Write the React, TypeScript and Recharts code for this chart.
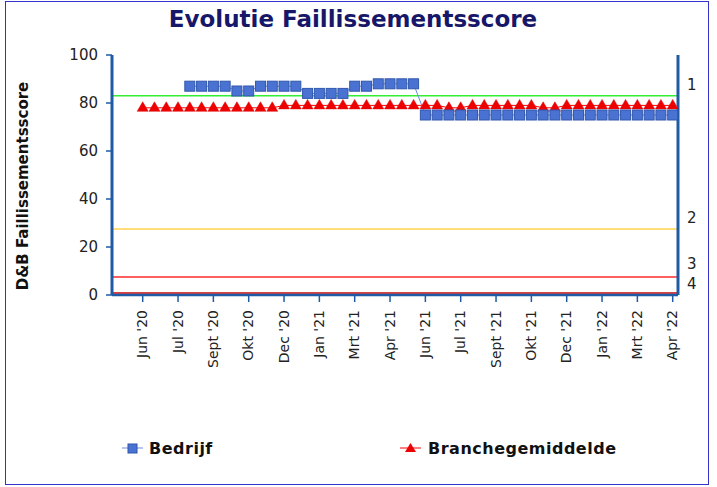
import React from 'react';
import { LineChart, Line, XAxis, YAxis, ReferenceLine, Legend } from 'recharts';

const tickLabels = ["Jun '20", "Jul '20", "Sept '20", "Okt '20", "Dec '20", "Jan '21", "Mrt '21", "Apr '21", "Jun '21", "Jul '21", "Sept '21", "Okt '21", "Dec '21", "Jan '22", "Mrt '22", "Apr '22"];

const bedrijf: (number | null)[] = [
  null, null, null, null, 87, 87, 87, 87, 85, 85,
  87, 87, 87, 87, 84, 84, 84, 84, 87, 87,
  88, 88, 88, 88, 75, 75, 75, 75, 75, 75,
  75, 75, 75, 75, 75, 75, 75, 75, 75, 75,
  75, 75, 75, 75, 75, 75,
];

const branche: number[] = [
  78, 78, 78, 78, 78, 78, 78, 78, 78, 78,
  78, 78, 79, 79, 79, 79, 79, 79, 79, 79,
  79, 79, 79, 79, 79, 79, 78, 78, 79, 79,
  79, 79, 79, 79, 78, 78, 79, 79, 79, 79,
  79, 79, 79, 79, 79, 79,
];

const thresholdValues = [83, 27.5, 7.5, 0.8];
const thresholdLabels = ['1', '2', '3', '4'];
const thresholdColors = ['#33ee33', '#ffd24d', '#ff2a2a', '#cc0000'];
const thresholdLabelShift = [-6, -6, -8, -4];

const yTicks = [0, 20, 40, 60, 80, 100];

const data = branche.map((b, i) => ({ idx: i, bedrijf: bedrijf[i], branche: b }));
const xTicks = tickLabels.map((_, k) => k * 3);

const FONT = '"DejaVu Sans", Verdana, sans-serif';
const AXIS = '#1f5aa6';

const SquareDot = (props: any) => {
  const { cx, cy, index } = props;
  if (cx == null || cy == null || props.value == null) return <g key={`s${index}`} />;
  return <rect key={`s${index}`} x={cx - 5} y={cy - 5} width={10} height={10} fill="#4a72d2" stroke="#3158ac" strokeWidth={1} />;
};

const TriangleDot = (props: any) => {
  const { cx, cy, index } = props;
  if (cx == null || cy == null) return <g key={`t${index}`} />;
  return <polygon key={`t${index}`} points={`${cx},${cy - 6} ${cx + 5.5},${cy + 3.5} ${cx - 5.5},${cy + 3.5}`} fill="#ee0000" stroke="#dd0000" strokeWidth={0.5} />;
};

const XTick = (props: any) => {
  const { x, y, payload } = props;
  return (
    <g transform={`translate(${x},${y})`}>
      <text transform="rotate(-90)" x={0} y={0} dy="0.33em" textAnchor="end" fontSize={14} fontFamily={FONT} fill="#222">
        {tickLabels[Math.round(payload.value / 3)]}
      </text>
    </g>
  );
};

const renderLegend = () => (
  <div style={{ position: 'relative', width: 717, height: 38, fontFamily: FONT }}>
    <svg width={717} height={38} style={{ position: 'absolute', left: 0, top: 0 }}>
      <line x1={122} x2={143} y1={19} y2={19} stroke="#6a8fe0" strokeWidth={1} />
      <rect x={128} y={15} width={9} height={9} fill="#4a72d2" stroke="#2e55a8" />
      <text x={149} y={25} fontSize={16} fontWeight="bold" letterSpacing={0.5} fill="#111" fontFamily={FONT}>Bedrijf</text>
      <line x1={400} x2={421} y1={19} y2={19} stroke="#ff0000" strokeWidth={1} />
      <polygon points="410.5,14 416,23 405,23" fill="#ee0000" />
      <text x={428} y={25} fontSize={16} fontWeight="bold" letterSpacing={0.5} fill="#111" fontFamily={FONT}>Branchegemiddelde</text>
    </svg>
  </div>
);

export default function App() {
  return (
    <div style={{ position: 'absolute', left: 0, top: 0, width: 717, height: 487, background: '#fff' }}>
      <div style={{ position: 'absolute', left: 5, top: 1, width: 704, height: 484, border: '1px solid #3333cc', boxSizing: 'border-box', pointerEvents: 'none' }} />
      <div style={{ position: 'absolute', left: 0, top: 5, width: 706, textAlign: 'center', fontFamily: FONT, fontSize: 23, fontWeight: 'bold', lineHeight: '28px', color: '#17176a' }}>
        Evolutie Faillissementsscore
      </div>
      <div style={{ position: 'absolute', left: 23, top: 186, transform: 'translate(-50%, -50%) rotate(-90deg)', whiteSpace: 'nowrap', fontFamily: FONT, fontSize: 15, fontWeight: 'bold', color: '#111' }}>
        D&amp;B Faillissementsscore
      </div>
      <LineChart width={717} height={487} data={data} margin={{ top: 55, right: 29, left: 12, bottom: 20 }}>
        <XAxis
          dataKey="idx"
          type="number"
          domain={[0, 45]}
          ticks={xTicks}
          interval={0}
          padding={{ left: 30.7, right: 5.3 }}
          height={134}
          tickSize={7}
          tickMargin={8}
          axisLine={{ stroke: AXIS, strokeWidth: 2.5 }}
          tickLine={{ stroke: AXIS, strokeWidth: 1.5 }}
          tick={<XTick />}
        />
        <YAxis
          yAxisId="left"
          domain={[0, 100]}
          ticks={yTicks}
          width={100}
          tickSize={6}
          tickMargin={8}
          axisLine={{ stroke: AXIS, strokeWidth: 3 }}
          tickLine={{ stroke: AXIS, strokeWidth: 1.5 }}
          tick={{ fontSize: 15, fill: '#222', fontFamily: FONT }}
        />
        <YAxis
          yAxisId="right"
          orientation="right"
          domain={[0, 100]}
          width={10}
          tick={false}
          tickLine={false}
          axisLine={{ stroke: AXIS, strokeWidth: 3 }}
        />
        {thresholdValues.map((v, i) => (
          <ReferenceLine
            key={`ref${i}`}
            yAxisId="left"
            y={v}
            stroke={thresholdColors[i]}
            strokeWidth={1.5}
            label={(p: any) => (
              <text x={p.viewBox.x + p.viewBox.width + 9} y={p.viewBox.y + thresholdLabelShift[i]} fontSize={15} fontFamily={FONT} fill="#222">
                {thresholdLabels[i]}
              </text>
            )}
          />
        ))}
        <Line
          yAxisId="left"
          dataKey="branche"
          name="Branchegemiddelde"
          stroke="#ff0000"
          strokeWidth={1}
          dot={TriangleDot}
          activeDot={false}
          isAnimationActive={false}
        />
        <Line
          yAxisId="left"
          dataKey="bedrijf"
          name="Bedrijf"
          stroke="#6a8fe0"
          strokeWidth={1}
          dot={SquareDot}
          activeDot={false}
          isAnimationActive={false}
        />
        <Legend verticalAlign="bottom" height={38} content={renderLegend} wrapperStyle={{ left: 0, width: 717, height: 38 }} />
      </LineChart>
    </div>
  );
}
